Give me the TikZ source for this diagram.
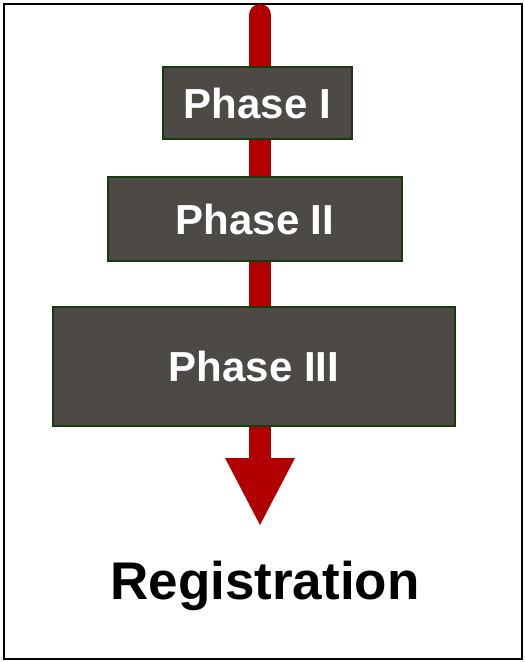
\documentclass[tikz,border=0pt]{standalone}
\usepackage{fontspec}
\setmainfont{Liberation Sans}
\definecolor{arrowred}{HTML}{B00000}
\definecolor{boxfill}{HTML}{4D4A45}
\definecolor{boxline}{HTML}{173A0E}
\begin{document}
\begin{tikzpicture}[x=1pt,y=-1pt,
  phasebox/.style={draw=boxline, line width=1.6pt, fill=boxfill, text=white,
    font=\fontsize{42}{46}\selectfont\bfseries, inner sep=0pt},
  frame/.style={draw=black, line width=2pt}]
\useasboundingbox (0,0) rectangle (525,662);
\draw[frame] (3.5,3.5) rectangle (521.5,658.5);
% arrow
\coordinate (top) at (260,15);
\coordinate (shaftend) at (260,462);
\coordinate (headL) at (225,458);
\coordinate (headR) at (295,458);
\coordinate (tip) at (260,525);
\draw[arrowred, line width=22pt, line cap=round] (top) -- (shaftend);
\fill[arrowred] (headL) -- (headR) -- (tip) -- cycle;
% boxes
\node[phasebox, minimum width=189pt, minimum height=72pt] (p1) at (257.5,103) {Phase I};
\node[phasebox, minimum width=294pt, minimum height=84pt] (p2) at (255,219) {Phase II};
\node[phasebox, minimum width=402pt, minimum height=119pt] (p3) at (254,366.5) {Phase III};
\node[font=\fontsize{53}{58}\selectfont\bfseries, text=black] (reg) at (265,586) {Registration};
\end{tikzpicture}
\end{document}
